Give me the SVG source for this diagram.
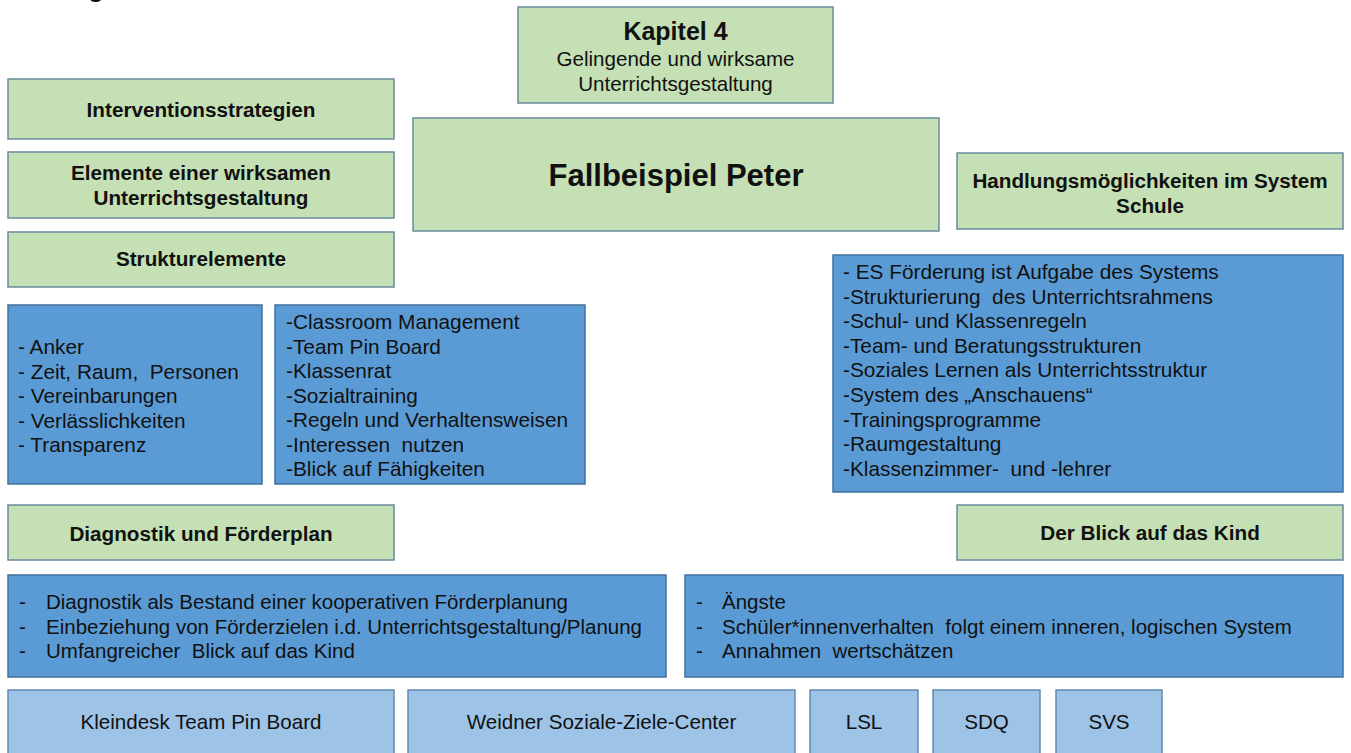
<svg xmlns="http://www.w3.org/2000/svg" width="1351" height="753" viewBox="0 0 1351 753">
  <style>
    text { font-family: "Liberation Sans", Arial, sans-serif; fill: #111; white-space: pre; }
    .green { fill: #c5e0b4; stroke: #6a8a9c; stroke-width: 1.5; }
    .blue { fill: #5b9bd5; stroke: #41719c; stroke-width: 1.5; }
    .light { fill: #9dc3e6; stroke: #5f8bb3; stroke-width: 1.5; }
    .h { font-weight: bold; font-size: 20.7px; text-anchor: middle; }
    .b { font-size: 20.8px; }
    .s { font-size: 20.5px; }
    .c { font-size: 20.6px; text-anchor: middle; }
  </style>
  <rect width="1351" height="753" fill="#ffffff"/>
  <text x="88" y="-3" style="font-weight:bold;font-size:26px">g</text>

  <g id="kapitel">
    <rect class="green" x="518" y="7" width="315" height="96"/>
    <text x="675.5" y="40" style="font-weight:bold;font-size:25px;text-anchor:middle">Kapitel 4</text>
    <text x="675.5" y="66" class="c">Gelingende und wirksame</text>
    <text x="675.5" y="91" class="c">Unterrichtsgestaltung</text>
  </g>

  <g id="interventionsstrategien">
    <rect class="green" x="8" y="79" width="386" height="60"/>
    <text x="201" y="117" class="h">Interventionsstrategien</text>
  </g>

  <g id="elemente">
    <rect class="green" x="8" y="152" width="386" height="66"/>
    <text x="201" y="180" class="h">Elemente einer wirksamen</text>
    <text x="201" y="205" class="h">Unterrichtsgestaltung</text>
  </g>

  <g id="strukturelemente">
    <rect class="green" x="8" y="232" width="386" height="55"/>
    <text x="201" y="266" class="h">Strukturelemente</text>
  </g>

  <g id="fallbeispiel">
    <rect class="green" x="413" y="118" width="526" height="113"/>
    <text x="676" y="186" style="font-weight:bold;font-size:31px;text-anchor:middle">Fallbeispiel Peter</text>
  </g>

  <g id="handlungsmoeglichkeiten">
    <rect class="green" x="957" y="153" width="386" height="76"/>
    <text x="1150" y="188" class="h">Handlungsmöglichkeiten im System</text>
    <text x="1150" y="213" class="h">Schule</text>
  </g>

  <g id="system-liste">
    <rect class="blue" x="833" y="255" width="510" height="237"/>
    <text class="b" x="843" y="279">- ES Förderung ist Aufgabe des Systems</text>
    <text class="b" x="843" y="303.6">-Strukturierung  des Unterrichtsrahmens</text>
    <text class="b" x="843" y="328.2">-Schul- und Klassenregeln</text>
    <text class="b" x="843" y="352.8">-Team- und Beratungsstrukturen</text>
    <text class="b" x="843" y="377.4">-Soziales Lernen als Unterrichtsstruktur</text>
    <text class="b" x="843" y="402">-System des „Anschauens“</text>
    <text class="b" x="843" y="426.6">-Trainingsprogramme</text>
    <text class="b" x="843" y="451.2">-Raumgestaltung</text>
    <text class="b" x="843" y="475.8">-Klassenzimmer-  und -lehrer</text>
  </g>

  <g id="struktur-liste">
    <rect class="blue" x="8" y="305" width="254" height="179"/>
    <text class="b" x="18" y="354">- Anker</text>
    <text class="b" x="18" y="378.5">- Zeit, Raum,  Personen</text>
    <text class="b" x="18" y="403">- Vereinbarungen</text>
    <text class="b" x="18" y="427.5">- Verlässlichkeiten</text>
    <text class="b" x="18" y="452">- Transparenz</text>
  </g>

  <g id="methoden-liste">
    <rect class="blue" x="275" y="305" width="310" height="179"/>
    <text class="b" x="286" y="329">-Classroom Management</text>
    <text class="b" x="286" y="353.5">-Team Pin Board</text>
    <text class="b" x="286" y="378">-Klassenrat</text>
    <text class="b" x="286" y="402.5">-Sozialtraining</text>
    <text class="b" x="286" y="427">-Regeln und Verhaltensweisen</text>
    <text class="b" x="286" y="451.5">-Interessen  nutzen</text>
    <text class="b" x="286" y="476">-Blick auf Fähigkeiten</text>
  </g>

  <g id="diagnostik">
    <rect class="green" x="8" y="505" width="386" height="55"/>
    <text x="201" y="541" class="h">Diagnostik und Förderplan</text>
  </g>

  <g id="blick-kind">
    <rect class="green" x="957" y="505" width="386" height="55"/>
    <text x="1150" y="540" class="h">Der Blick auf das Kind</text>
  </g>

  <g id="diagnostik-liste">
    <rect class="blue" x="8" y="575" width="658" height="102"/>
    <text class="s" x="19" y="609">-</text>
    <text class="s" x="46" y="609">Diagnostik als Bestand einer kooperativen Förderplanung</text>
    <text class="s" x="19" y="634">-</text>
    <text class="s" x="46" y="634">Einbeziehung von Förderzielen i.d. Unterrichtsgestaltung/Planung</text>
    <text class="s" x="19" y="658">-</text>
    <text class="s" x="46" y="658">Umfangreicher  Blick auf das Kind</text>
  </g>

  <g id="kind-liste">
    <rect class="blue" x="685" y="575" width="658" height="102"/>
    <text class="s" x="696" y="609">-</text>
    <text class="s" x="722" y="609">Ängste</text>
    <text class="s" x="696" y="634">-</text>
    <text class="s" x="722" y="634">Schüler*innenverhalten  folgt einem inneren, logischen System</text>
    <text class="s" x="696" y="658">-</text>
    <text class="s" x="722" y="658">Annahmen  wertschätzen</text>
  </g>

  <g id="kleindesk">
    <rect class="light" x="8" y="690" width="386" height="75"/>
    <text class="c" x="201" y="729">Kleindesk Team Pin Board</text>
  </g>
  <g id="weidner">
    <rect class="light" x="408" y="690" width="387" height="75"/>
    <text class="c" x="601.5" y="729">Weidner Soziale-Ziele-Center</text>
  </g>
  <g id="lsl">
    <rect class="light" x="810" y="690" width="108" height="75"/>
    <text class="c" x="864" y="729">LSL</text>
  </g>
  <g id="sdq">
    <rect class="light" x="933" y="690" width="107" height="75"/>
    <text class="c" x="986.5" y="729">SDQ</text>
  </g>
  <g id="svs">
    <rect class="light" x="1056" y="690" width="106" height="75"/>
    <text class="c" x="1109" y="729">SVS</text>
  </g>

  <g id="connectors"></g>
</svg>
